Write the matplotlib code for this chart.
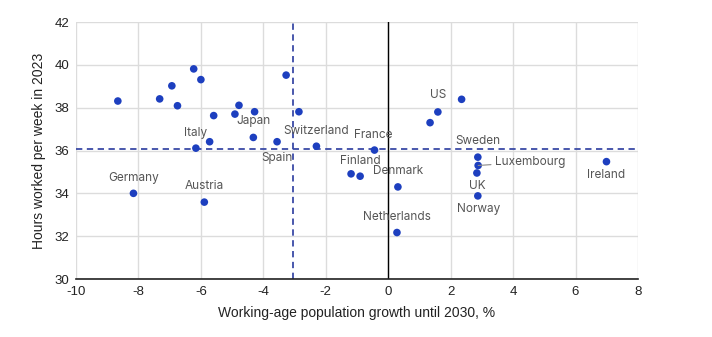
import matplotlib
matplotlib.use("Agg")
import matplotlib.pyplot as plt

plt.rcParams["axes.unicode_minus"] = False

# Data
pop_growth = [-8.66, -7.32, -6.93, -6.75, -6.23, -6.00, -5.59, -4.91, -4.78, -4.28,
              -4.32, -5.72, -6.16, -3.56, -3.27, -2.86, -2.30, -0.44, -1.19, -0.90,
              -8.16, -5.89, 0.31, 0.28, 2.35, 1.59, 1.34, 2.87, 2.88, 2.84, 2.87, 6.99]
hours = [38.31, 38.41, 39.02, 38.09, 39.81, 39.31, 37.63, 37.70, 38.11, 37.81,
         36.61, 36.41, 36.11, 36.41, 39.52, 37.81, 36.20, 36.02, 34.91, 34.80,
         34.00, 33.59, 34.30, 32.17, 38.39, 37.80, 37.30, 35.69, 35.30, 34.95, 33.88, 35.48]

labels = {  # index: (name, dx_px, dy_px, ha)
    10: ("Japan", 0, 16, "center"),
    12: ("Italy", 0, 15.5, "center"),
    13: ("Spain", 0, -16.5, "center"),
    16: ("Switzerland", 0, 15.5, "center"),
    17: ("France", -1.5, 15.5, "center"),
    19: ("Finland", 0, 15, "center"),
    20: ("Germany", 0, 15.5, "center"),
    21: ("Austria", 0, 16.5, "center"),
    22: ("Denmark", 0, 16, "center"),
    23: ("Netherlands", 0, 16, "center"),
    25: ("US", 0, 17, "center"),
    27: ("Sweden", 0, 16, "center"),
    29: ("UK", 0, -13, "center"),
    30: ("Norway", 1, -13.5, "center"),
    31: ("Ireland", 0, -13.5, "center"),
}
lux_idx = 28
avg_x = -3.06
avg_y = 36.09

x_ticks = [-10, -8, -6, -4, -2, 0, 2, 4, 6, 8]
y_ticks = [30, 32, 34, 36, 38, 40, 42]

fig = plt.figure(figsize=(7.12, 3.37), dpi=100)
ax = fig.add_axes([76/712, 1-279/337, (638-76)/712, (279-22)/337])

ax.set_xlim(-10, 8)
ax.set_ylim(30, 42)
ax.set_xticks(x_ticks)
ax.set_yticks(y_ticks)
ax.grid(True, color="#dcdcdc", linewidth=1)
ax.set_axisbelow(True)
for s in ["top", "right", "left"]:
    ax.spines[s].set_visible(False)
ax.spines["bottom"].set_color("#222222")
ax.spines["bottom"].set_linewidth(1.2)
ax.tick_params(axis="both", length=0, labelsize=9.5, colors="#222222", pad=5)
for t in ax.get_xticklabels() + ax.get_yticklabels():
    t.set_family("Liberation Sans")

ax.axvline(0, color="black", linewidth=1, zorder=1.5)
ax.axvline(avg_x, color="#3a4aa6", linewidth=1.3, linestyle=(0, (3.5, 2.5)), zorder=1.6)
ax.axhline(avg_y, color="#3a4aa6", linewidth=1.3, linestyle=(0, (3.5, 2.5)), zorder=1.6)

ax.scatter(pop_growth, hours, s=30, color="#1d3fbf", edgecolors="none", zorder=3)

for i, (name, dx, dy, ha) in labels.items():
    ax.annotate(name, (pop_growth[i], hours[i]), xytext=(dx, dy),
                textcoords="offset pixels", ha=ha, va="center",
                fontsize=8.5, color="#555555", family="Inter", zorder=4)

ax.annotate("Luxembourg", (pop_growth[lux_idx], hours[lux_idx]), xytext=(17, 3.5),
            textcoords="offset pixels", ha="left", va="center",
            fontsize=8.5, color="#555555", family="Inter", zorder=4,
            arrowprops=dict(arrowstyle="-", color="#888888", linewidth=0.8,
                            shrinkA=1, shrinkB=0))

ax.set_xlabel("Working-age population growth until 2030, %", fontsize=10,
              family="Liberation Sans", color="#222222", labelpad=6)
ax.set_ylabel("Hours worked per week in 2023", fontsize=10,
              family="Liberation Sans", color="#222222", labelpad=6)

fig.savefig("out.png", dpi=100)
